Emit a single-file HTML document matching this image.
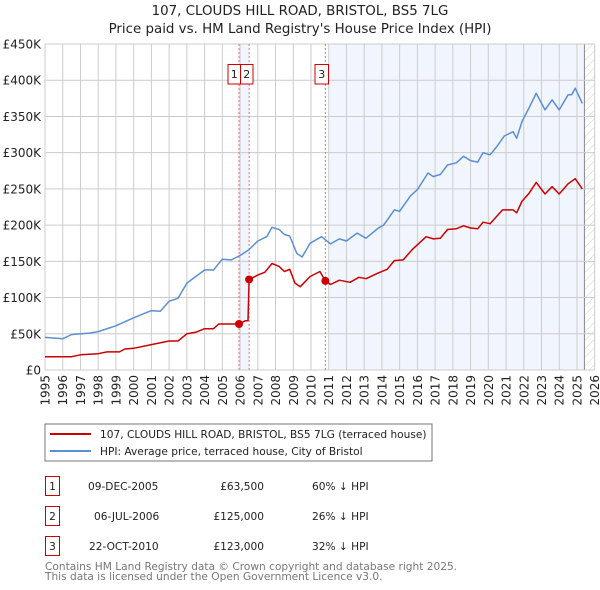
<!DOCTYPE html>
<html><head><meta charset="utf-8">
<style>
body{margin:0;background:#fff;font-family:"DejaVu Sans","Liberation Sans",sans-serif;}
#wrap{position:relative;width:600px;height:590px;overflow:hidden;}
svg text{font-family:"DejaVu Sans","Liberation Sans",sans-serif;}
</style></head>
<body>
<div id="wrap">
<svg id="chart" width="600" height="590" xmlns="http://www.w3.org/2000/svg">
<defs>
<pattern id="hatch" width="6" height="6" patternUnits="userSpaceOnUse" patternTransform="rotate(45)">
<line x1="0" y1="0" x2="0" y2="6" stroke="#ccc" stroke-width="1"/>
</pattern>
</defs>
<text x="300" y="15" text-anchor="middle" font-size="13.4" fill="#222">107, CLOUDS HILL ROAD, BRISTOL, BS5 7LG</text>
<text x="300" y="33" text-anchor="middle" font-size="13.4" fill="#222">Price paid vs. HM Land Registry's House Price Index (HPI)</text>
<g id="plot"></g>
<rect x="45" y="424" width="387" height="37" fill="#fff" stroke="#777" stroke-width="1"/>
<line x1="50" y1="434" x2="91" y2="434" stroke="#cc0000" stroke-width="2"/>
<text x="100" y="438" font-size="10.6" fill="#222">107, CLOUDS HILL ROAD, BRISTOL, BS5 7LG (terraced house)</text>
<line x1="50" y1="451" x2="91" y2="451" stroke="#5b8fd4" stroke-width="2"/>
<text x="100" y="455" font-size="10.6" fill="#222">HPI: Average price, terraced house, City of Bristol</text>
<g font-size="10.6" fill="#222">
<rect x="45.5" y="476.5" width="14" height="19" fill="none" stroke="#cc0000"/>
<text x="52.5" y="490" text-anchor="middle">1</text>
<text x="88" y="490">09-DEC-2005</text>
<text x="264" y="490" text-anchor="end">£63,500</text>
<text x="312" y="490">60% ↓ HPI</text>
<rect x="45.5" y="506.5" width="14" height="19" fill="none" stroke="#cc0000"/>
<text x="52.5" y="520" text-anchor="middle">2</text>
<text x="94" y="520">06-JUL-2006</text>
<text x="264" y="520" text-anchor="end">£125,000</text>
<text x="312" y="520">26% ↓ HPI</text>
<rect x="45.5" y="536.5" width="14" height="19" fill="none" stroke="#cc0000"/>
<text x="52.5" y="550" text-anchor="middle">3</text>
<text x="89" y="550">22-OCT-2010</text>
<text x="264" y="550" text-anchor="end">£123,000</text>
<text x="312" y="550">32% ↓ HPI</text>
</g>
<text x="45" y="570" font-size="10.6" fill="#777">Contains HM Land Registry data © Crown copyright and database right 2025.</text>
<text x="45" y="580" font-size="10.6" fill="#777">This data is licensed under the Open Government Licence v3.0.</text>
</svg>
</div>
<script>
const yTicks=[0,50000,100000,150000,200000,250000,300000,350000,400000,450000];
const yTickLabels=["£0","£50K","£100K","£150K","£200K","£250K","£300K","£350K","£400K","£450K"];
const xYears=[1995,1996,1997,1998,1999,2000,2001,2002,2003,2004,2005,2006,2007,2008,2009,2010,2011,2012,2013,2014,2015,2016,2017,2018,2019,2020,2021,2022,2023,2024,2025,2026];
const hpiYears=[1995,1996,1996.5,1997.5,1998,1999,2000,2001,2001.5,2002,2002.5,2003,2003.5,2004,2004.5,2005,2005.5,2006,2006.5,2007,2007.5,2007.8,2008.2,2008.5,2008.8,2009.2,2009.5,2009.95,2010.6,2011.1,2011.6,2012,2012.6,2013.1,2013.8,2014.1,2014.7,2015,2015.6,2016,2016.6,2016.9,2017.3,2017.7,2018.2,2018.6,2019,2019.4,2019.7,2020.1,2020.5,2020.9,2021.4,2021.6,2021.9,2022.3,2022.7,2023.2,2023.6,2024,2024.5,2024.7,2024.9,2025.3];
const hpiValues=[45,43,49,51,53,61,72,82,81,95,99,120,129,138,138,153,152,158,166,178,184,197,194,187,185,161,156,175,184,174,181,178,189,182,196,200,221,219,240,249,272,267,270,283,286,295,289,287,300,297,309,323,329,320,343,362,382,359,373,359,380,380,389,368];
const priceYears=[1995,1996.5,1997,1998,1998.5,1999.2,1999.5,2000,2001,2002,2002.5,2003,2003.5,2004,2004.5,2004.8,2005.5,2005.94,2006.3,2006.45,2006.51,2007,2007.4,2007.8,2008.2,2008.5,2008.8,2009.1,2009.4,2009.95,2010.5,2010.81,2011.1,2011.6,2012.2,2012.7,2013.1,2013.8,2014.3,2014.7,2015.2,2015.7,2016.5,2016.9,2017.3,2017.7,2018.2,2018.6,2019,2019.4,2019.7,2020.1,2020.8,2021.4,2021.6,2021.9,2022.3,2022.7,2023.2,2023.6,2024,2024.5,2024.9,2025.3];
const priceValues=[18.4,18.4,21,22.5,25,25,29,30,35,40,40,50,52,57,57,63.5,63.5,63.5,68,68,125,131,135,147,143,136,139,120,115,129,136,123,118,124,121,128,126,134,139,151,152,166,184,181,182,194,195,199,196,195,204,202,221,221,217,233,244,259,243,253,243,257,264,250];
const saleYears=[2005.94,2006.51,2010.81];
const saleValues=[63500,125000,123000];
const saleLabels=["1","2","3"];

const L=45,R=594.7,T=44,B=370,X0=1995,X1=2026,YMAX=450000;
const xs=y=>L+(y-X0)/(X1-X0)*(R-L);
const ys=v=>B-v/YMAX*(B-T);
const NS="http://www.w3.org/2000/svg";
const g=document.getElementById('plot');
function mk(tag,attrs,parent){const e=document.createElementNS(NS,tag);for(const k in attrs)e.setAttribute(k,attrs[k]);(parent||g).appendChild(e);return e;}

let e;
e=mk('rect',{x:xs(saleYears[0]),y:T,width:xs(saleYears[1])-xs(saleYears[0]),height:B-T,fill:'#eef3fc',opacity:0.8});


e=mk('rect',{x:xs(saleYears[2])+4,y:T,width:xs(2025.42)-xs(saleYears[2])-4,height:B-T,fill:'#eef3fc',opacity:0.8});


e=mk('rect',{x:xs(2025.42),y:T,width:R-xs(2025.42),height:B-T,fill:'url(#hatch)'});


e=mk('line',{x1:xs(2025.42),x2:xs(2025.42),y1:T,y2:B,stroke:'#888','stroke-width':1});



yTicks.forEach((v,i)=>{
  const l=mk('line',{x1:L,x2:R,y1:ys(v),y2:ys(v),stroke:'#ccc','stroke-width':1});
  
  
  const t=mk('text',{x:L-4,y:ys(v)+4.5,'text-anchor':'end','font-size':'12',fill:'#222'});
  t.textContent=yTickLabels[i];
  
  
});
xYears.forEach(yr=>{
  const l=mk('line',{x1:xs(yr),x2:xs(yr),y1:T,y2:B,stroke:'#ccc','stroke-width':1});
  
  
  const t=mk('text',{x:0,y:0,'text-anchor':'end','font-size':'12',fill:'#222',transform:`translate(${xs(yr)+4.5},375) rotate(-90)`});
  t.textContent=String(yr);
  
  
});

saleYears.forEach((yr,i)=>{
  const l=mk('line',{x1:xs(yr),x2:xs(yr),y1:T,y2:B,stroke:'#f07070','stroke-width':1,'stroke-dasharray':'2,2'});
  
  
});
const boxX=[228,240.5,315];
saleLabels.forEach((s,i)=>{
  const r=mk('rect',{x:boxX[i],y:64.5,width:i==2?13.5:12.5,height:19.5,fill:'#fff',stroke:'#cc0000','stroke-width':1});
  
  
  const t=mk('text',{x:boxX[i]+(i==2?6.75:6.25),y:78,'text-anchor':'middle','font-size':'11',fill:'#222'});
  t.textContent=s;
  
  
});

const hp=hpiYears.map((y,i)=>xs(y).toFixed(1)+','+ys(hpiValues[i]*1000).toFixed(1)).join(' ');
e=mk('polyline',{points:hp,fill:'none',stroke:'#5b8fd4','stroke-width':1.5,'stroke-linejoin':'round'});


const pp=priceYears.map((y,i)=>xs(y).toFixed(1)+','+ys(priceValues[i]*1000).toFixed(1)).join(' ');
e=mk('polyline',{points:pp,fill:'none',stroke:'#cc0000','stroke-width':1.5,'stroke-linejoin':'round'});


saleYears.forEach((yr,i)=>{
  const c=mk('circle',{cx:xs(yr),cy:ys(saleValues[i]),r:4,fill:'#cc0000'});
  
  
});
</script>
</body></html>
